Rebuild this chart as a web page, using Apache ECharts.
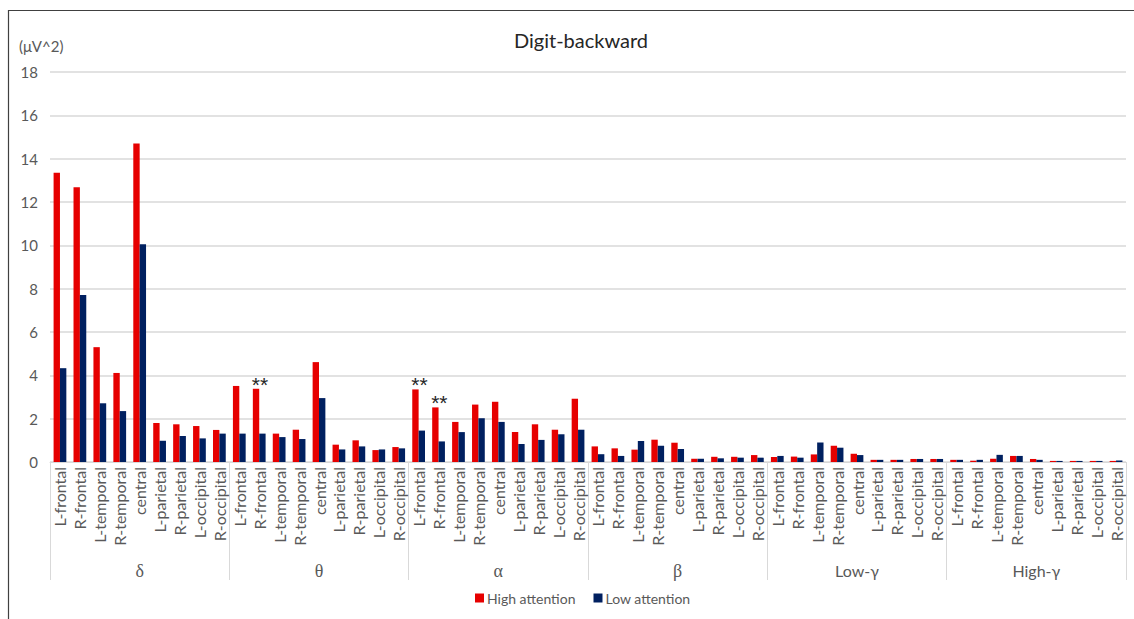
<!DOCTYPE html>
<html>
<head>
<meta charset="utf-8">
<title>Digit-backward</title>
<script src="https://cdn.jsdelivr.net/npm/echarts@6/dist/echarts.min.js"></script>
<style>
  html, body { margin: 0; padding: 0; background: #fff; }
  #chart { width: 1134px; height: 619px; }
</style>
</head>
<body>
<div id="chart"></div>
<script>
// Frequency bands and electrode regions
const bands = ['δ', 'θ', 'α', 'β', 'Low-γ', 'High-γ'];
const regions = ['L-frontal', 'R-frontal', 'L-temporal', 'R-temporal', 'central',
                 'L-parietal', 'R-parietal', 'L-occipital', 'R-occipital'];

// Mean power (μV^2), one value per band × region, band-major order
const highAttention = [
  13.35, 12.68, 5.30, 4.11, 14.70, 1.80, 1.74, 1.66, 1.48,
  3.51, 3.38, 1.31, 1.49, 4.61, 0.80, 1.00, 0.55, 0.69,
  3.35, 2.52, 1.85, 2.65, 2.78, 1.38, 1.74, 1.49, 2.92,
  0.72, 0.63, 0.57, 1.03, 0.89, 0.15, 0.24, 0.24, 0.32,
  0.23, 0.25, 0.35, 0.75, 0.38, 0.10, 0.10, 0.14, 0.14,
  0.10, 0.06, 0.15, 0.28, 0.14, 0.05, 0.05, 0.05, 0.05
];
const lowAttention = [
  4.33, 7.71, 2.71, 2.35, 10.05, 0.98, 1.20, 1.09, 1.31,
  1.31, 1.31, 1.15, 1.06, 2.95, 0.58, 0.72, 0.58, 0.63,
  1.45, 0.95, 1.38, 2.02, 1.85, 0.83, 1.02, 1.28, 1.49,
  0.36, 0.28, 0.97, 0.75, 0.60, 0.15, 0.17, 0.20, 0.20,
  0.28, 0.20, 0.90, 0.66, 0.32, 0.10, 0.10, 0.14, 0.14,
  0.10, 0.10, 0.33, 0.28, 0.10, 0.05, 0.05, 0.05, 0.07
];

// Significant differences (p < .01), marked with "**"
const sigMarks = ['θ|R-frontal', 'α|L-frontal', 'α|R-frontal'];

const yTicks = { min: 0, max: 18, interval: 2 };

// Unique category keys "band|region"
const categories = [];
bands.forEach(b => regions.forEach(r => categories.push(b + '|' + r)));

const latin = 'Lato, "Liberation Serif", sans-serif';
const grey = '#595959';

const highData = highAttention.map((v, i) => {
  if (sigMarks.indexOf(categories[i]) >= 0) {
    return {
      value: v,
      label: {
        show: true, position: 'top', formatter: '**',
        distance: -6, offset: [4, 0],
        fontSize: 21, color: '#262626', fontFamily: '"Liberation Sans", sans-serif'
      }
    };
  }
  return v;
});

const chart = echarts.init(document.getElementById('chart'), null, { renderer: 'svg' });

chart.setOption({
  animation: false,
  backgroundColor: '#ffffff',
  title: {
    text: 'Digit-backward',
    left: 576, top: 25, textAlign: 'center',
    textStyle: { fontFamily: latin, fontSize: 20, fontWeight: 'normal', color: '#262626' }
  },
  graphic: [
    {
      type: 'polyline', silent: true,
      shape: { points: [[8.5, 619], [8.5, 10.5], [1134, 10.5]] },
      style: { stroke: '#404040', lineWidth: 1.2, fill: null }
    },
    {
      type: 'text', left: 19, top: 38,
      style: { text: '(μV^2)', fontFamily: latin, fontSize: 15, fill: grey }
    }
  ],
  legend: {
    bottom: 9, left: 470,
    itemWidth: 9, itemHeight: 9, itemGap: 18,
    icon: 'rect',
    textStyle: { fontFamily: latin, fontSize: 14, color: grey, padding: [0, 0, 0, -2] },
    data: ['High attention', 'Low attention']
  },
  grid: { left: 50, right: 8, top: 72, bottom: 157, containLabel: false },
  xAxis: [
    {
      type: 'category',
      data: categories,
      position: 'bottom',
      axisLine: { show: true, lineStyle: { color: '#d9d9d9', width: 1 } },
      axisTick: { show: false },
      axisLabel: {
        interval: 0, rotate: 90, margin: 5,
        fontFamily: latin, fontSize: 16, color: grey,
        formatter: v => v.split('|')[1]
      }
    },
    {
      type: 'category',
      data: bands,
      position: 'bottom',
      boundaryGap: true,
      axisLine: { show: false },
      axisTick: { show: true, interval: 0, length: 118, lineStyle: { color: '#d9d9d9', width: 1 } },
      axisLabel: {
        interval: 0, margin: 100,
        fontFamily: latin, fontSize: 16, color: grey,
        formatter: v => (v.length === 1 ? '{g|' + v + '}' : v),
        rich: { g: { fontFamily: '"Liberation Serif", serif', fontSize: 18, color: grey } }
      },
      splitLine: { show: false }
    }
  ],
  yAxis: {
    type: 'value',
    min: yTicks.min, max: yTicks.max, interval: yTicks.interval,
    axisLine: { show: false },
    axisTick: { show: false },
    axisLabel: { fontFamily: latin, fontSize: 15, color: grey, margin: 12 },
    splitLine: { lineStyle: { color: '#d9d9d9', width: 1.5 } }
  },
  series: [
    {
      name: 'High attention', type: 'bar', xAxisIndex: 0,
      data: highData,
      barWidth: '32%', barGap: '0%',
      itemStyle: { color: '#E60000' }
    },
    {
      name: 'Low attention', type: 'bar', xAxisIndex: 0,
      data: lowAttention,
      barWidth: '32%', barGap: '0%',
      itemStyle: { color: '#002060' }
    }
  ]
});
</script>
</body>
</html>
